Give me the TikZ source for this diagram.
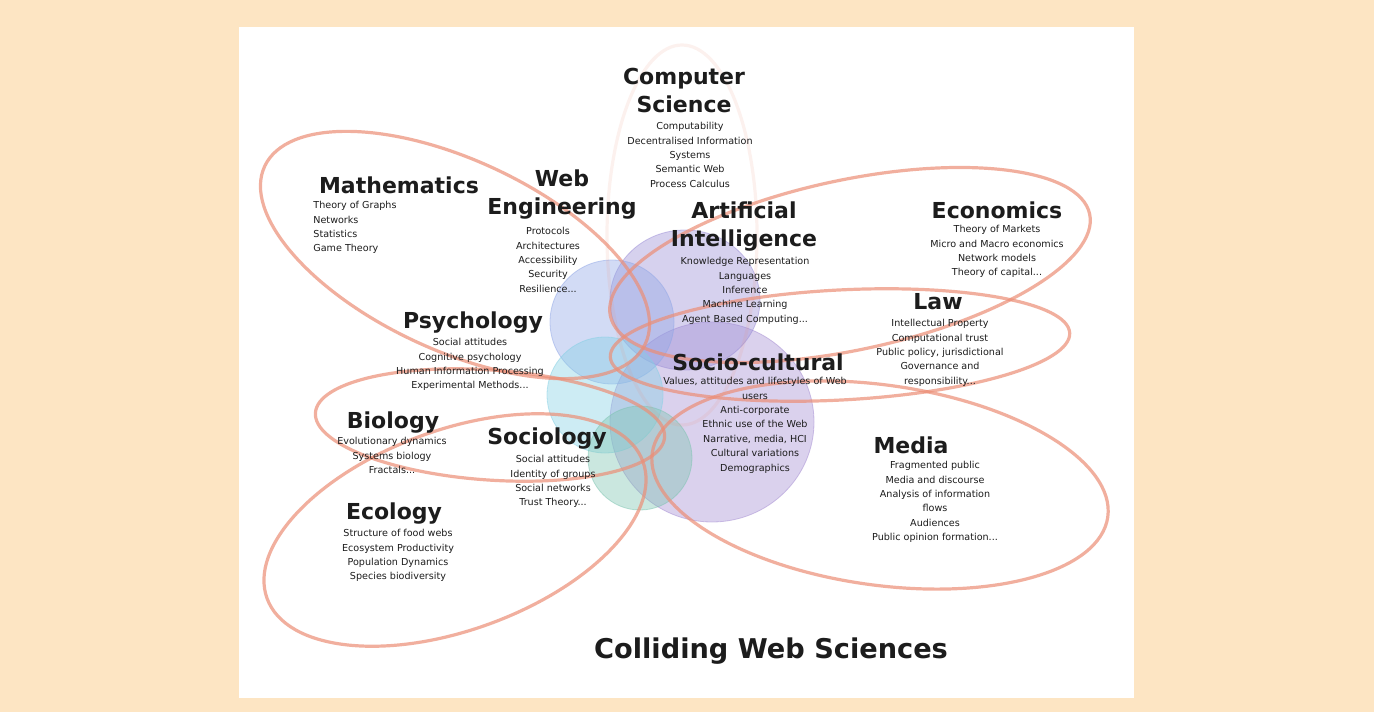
\documentclass[tikz,border=0pt]{standalone}
\usepackage{fontspec}
\setmainfont{DejaVu Sans}
\definecolor{bg}{HTML}{FDE5C3}
\definecolor{petal}{HTML}{EC8E76}
\definecolor{ink}{HTML}{1C1C1C}
\definecolor{pA}{HTML}{9A8CD6}
\definecolor{pB}{HTML}{8FA6E6}
\definecolor{pC}{HTML}{84D0E4}
\definecolor{pD}{HTML}{7CC4B0}
\definecolor{pE}{HTML}{A48CD2}
\begin{document}
\begin{tikzpicture}[x=0.5pt,y=-0.5pt,
  petalline/.style={draw=petal,line width=1.6pt,opacity=0.7},
  blob/.style={fill=#1,fill opacity=0.4,draw=#1,draw opacity=0.5,line width=0.4pt},
  head/.style={font=\bfseries\fontsize{11}{14}\selectfont,text=ink,align=center,inner sep=0pt},
  items/.style={font=\fontsize{4.8}{7.2}\selectfont,text=ink,align=center,inner sep=0pt,anchor=north},
  itemsl/.style={items,align=left,anchor=north west},
  titlestyle/.style={font=\bfseries\fontsize{13.6}{16}\selectfont,text=ink,inner sep=0pt}]
\fill[bg] (0,0) rectangle (1374,712);
\useasboundingbox (0,0) rectangle (1374,712);
\fill[white] (239,27) rectangle (1134,698);

% central overlapping blobs
\path[blob=pE] (712,422) ellipse [x radius=102, y radius=100];
\path[blob=pA] (685,300) ellipse [x radius=75, y radius=70];
\path[blob=pB] (612,322) circle [radius=62];
\path[blob=pC] (605,395) circle [radius=58];
\path[blob=pD] (640,458) circle [radius=52];

% petals
\draw[petalline,opacity=0.12] (682,235) ellipse [x radius=75, y radius=190];
\draw[petalline,rotate around={-25:(455,255)}] (455,255) ellipse [x radius=210, y radius=95];
\draw[petalline,rotate around={12:(850,265)}] (850,265) ellipse [x radius=245, y radius=85];
\draw[petalline,rotate around={3:(840,345)}] (840,345) ellipse [x radius=230, y radius=55];
\draw[petalline,rotate around={-8:(880,485)}] (880,485) ellipse [x radius=230, y radius=100];
\draw[petalline,rotate around={20:(455,530)}] (455,530) ellipse [x radius=200, y radius=100];
\draw[petalline,rotate around={-4:(490,425)}] (490,425) ellipse [x radius=175, y radius=55];

% Computer Science
\node[head] (cs) at (684,90) {Computer\\Science};
\node[items] (csl) at (690,122) {Computability\\Decentralised Information\\Systems\\Semantic Web\\Process Calculus};
% Mathematics
\node[head] (math) at (399,185) {Mathematics};
\node[itemsl] (mathl) at (313,201) {Theory of Graphs\\Networks\\Statistics\\Game Theory};
% Web Engineering
\node[head] (we) at (562,195) {Web\\Engineering};
\node[items] (wel) at (548,227) {Protocols\\Architectures\\Accessibility\\Security\\Resilience...};
% Artificial Intelligence
\node[head] (ai) at (744,227) {Artificial\\Intelligence};
\node[items] (ail) at (745,257) {Knowledge Representation\\Languages\\Inference\\Machine Learning\\Agent Based Computing...};
% Economics
\node[head] (eco) at (997,210) {Economics};
\node[items] (ecol) at (997,225) {Theory of Markets\\Micro and Macro economics\\Network models\\Theory of capital...};
% Law
\node[head] (law) at (938,302) {Law};
\node[items] (lawl) at (940,319) {Intellectual Property\\Computational trust\\Public policy, jurisdictional\\Governance and\\responsibility...};
% Psychology
\node[head] (psy) at (473,323) {Psychology};
\node[items] (psyl) at (470,338) {Social attitudes\\Cognitive psychology\\Human Information Processing\\Experimental Methods...};
% Socio-cultural
\node[head] (soc) at (758,362) {Socio-cultural};
\node[items] (socl) at (755,377) {Values, attitudes and lifestyles of Web\\users\\Anti-corporate\\Ethnic use of the Web\\Narrative, media, HCI\\Cultural variations\\Demographics};
% Biology
\node[head] (bio) at (393,423) {Biology};
\node[items] (biol) at (392,437) {Evolutionary dynamics\\Systems biology\\Fractals...};
% Sociology
\node[head] (socio) at (547,439) {Sociology};
\node[items] (sociol) at (553,455) {Social attitudes\\Identity of groups\\Social networks\\Trust Theory...};
% Ecology
\node[head] (ecol) at (394,514) {Ecology};
\node[items] (ecoll) at (398,529) {Structure of food webs\\Ecosystem Productivity\\Population Dynamics\\Species biodiversity};
% Media
\node[head] (media) at (911,445) {Media};
\node[items] (medial) at (935,461) {Fragmented public\\Media and discourse\\Analysis of information\\flows\\Audiences\\Public opinion formation...};

% title
\node[titlestyle] (title) at (771,651) {Colliding Web Sciences};
\end{tikzpicture}
\end{document}
